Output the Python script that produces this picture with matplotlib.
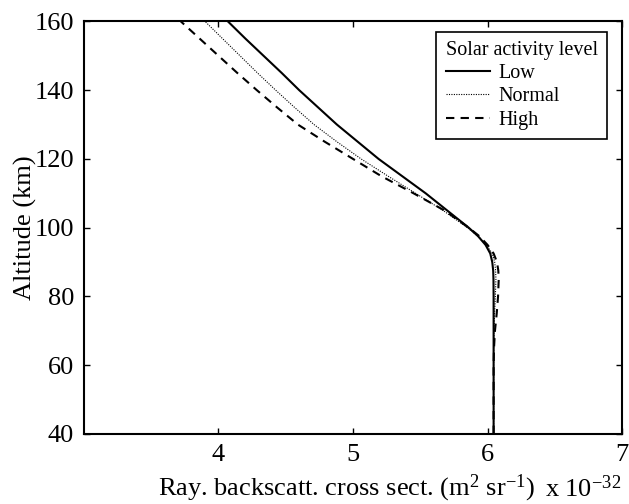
import matplotlib
matplotlib.use("Agg")
import matplotlib.pyplot as plt

plt.rcParams["font.family"] = ["Liberation Serif", "DejaVu Serif"]
plt.rcParams["mathtext.fontset"] = "custom"
plt.rcParams["mathtext.rm"] = "Liberation Serif"
plt.rcParams["mathtext.it"] = "Liberation Serif:italic"

# altitude grid (km) and cross sections (x 1e-32 m^2 sr^-1)
altitude = [40, 50, 60, 65, 70, 75, 80, 85, 87.5, 90, 92.5, 95, 97.5, 100, 105, 110, 115, 120,
            125, 130, 135, 140, 145, 150, 155, 160]
low = [6.045, 6.045, 6.045, 6.045, 6.045, 6.045, 6.045, 6.044, 6.042, 6.035, 6.02, 5.985, 5.93, 5.86,
       5.70, 5.54, 5.365, 5.19, 5.035, 4.88, 4.74, 4.60, 4.47, 4.335, 4.20, 4.07]
normal = [6.045, 6.045, 6.045, 6.046, 6.048, 6.052, 6.058, 6.062, 6.06, 6.053, 6.035, 5.99, 5.93, 5.85,
          5.67, 5.465, 5.26, 5.06, 4.88, 4.71, 4.565, 4.425, 4.29, 4.16, 4.03, 3.90]
high = [6.045, 6.045, 6.045, 6.048, 6.055, 6.068, 6.078, 6.083, 6.08, 6.07, 6.045, 6.00, 5.94, 5.86,
        5.68, 5.45, 5.21, 5.00, 4.79, 4.59, 4.435, 4.285, 4.14, 4.00, 3.86, 3.72]

xticks = [4, 5, 6, 7]
yticks = [40, 60, 80, 100, 120, 140, 160]

fig = plt.figure(figsize=(6.29, 5.04), dpi=100)
ax = fig.add_axes([0.1335, 0.139, 0.8555, 0.8185])

ax.plot(low, altitude, color="black", linestyle="-", linewidth=1.5, label="Low")
ax.plot(normal, altitude, color="black", linestyle=(0, (1, 1.2)), linewidth=0.8, label="Normal")
ax.plot(high, altitude, color="black", linestyle=(0, (4, 3)), linewidth=1.5, label="High")

ax.set_xlim(3, 7)
ax.set_ylim(40, 160)
ax.set_xticks(xticks)
ax.set_yticks(yticks)
ax.tick_params(direction="in", top=True, right=True, length=4, width=1, labelsize=19, pad=7)
for sp in ax.spines.values():
    sp.set_linewidth(1.5)

ax.set_ylabel("Altitude (km)", fontsize=19)
ax.yaxis.set_label_coords(-0.088, 0.5)
ax.set_xlabel("Ray. backscatt. cross sect. (m$^{2}$ sr$^{-1}$)", fontsize=19, va="baseline")
ax.xaxis.set_label_coords(0.487, -0.150)
ax.text(0.857, -0.153, "x 10$^{-32}$", transform=ax.transAxes, fontsize=19, va="baseline")

leg = ax.legend(loc="upper right", bbox_to_anchor=(0.9715, 0.974), title="Solar activity level",
                fontsize=14.5, title_fontsize=14.5, alignment="left", fancybox=False,
                edgecolor="black", framealpha=1, handlelength=2.2, handletextpad=0.45,
                borderpad=0.45, labelspacing=0.2, borderaxespad=0)
leg.get_frame().set_linewidth(1.2)

fig.savefig("out.png", dpi=100)
